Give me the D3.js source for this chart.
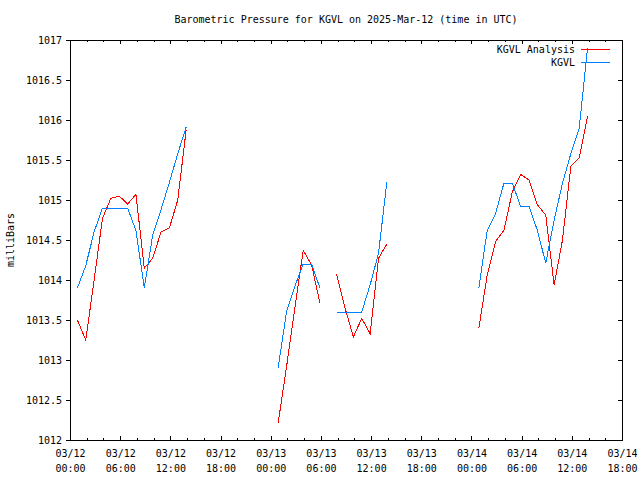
<!DOCTYPE html>
<html><head><meta charset="utf-8">
<script src="https://cdn.jsdelivr.net/npm/d3@7"></script>
<style>
body{margin:0;background:#fff}
svg{display:block}
text{font-family:"DejaVu Sans Mono","Liberation Mono",monospace;font-size:10px;fill:#000}
</style>
</head><body><svg id="c" width="640" height="480"></svg>
<script>
// Observation times: hours after 2025-03-12 00:53 UTC
const hourOffsets = [0,1,2,3,4,5,6,7,8,9,10,11,12,13,14,15,16,17,18,19,20,21,22,23,24,25,26,27,28,29,30,31,32,33,34,35,36,37,38,39,40,41,42,43,44,45,46,47,48,49,50,51,52,53,54,55,56,57,58,59,60,61];
// KGVL Analysis (red)
const analysis = [1013.50,1013.25,1014.00,1014.77,1015.02,1015.05,1014.95,1015.07,1014.15,1014.27,1014.60,1014.65,1015.00,1015.87,
  null,null,null,null,null,null,null,null,null,null,
  1012.21,1012.91,1013.65,1014.37,1014.19,1013.71,
  null,
  1014.07,1013.65,1013.29,1013.52,1013.33,1014.27,1014.45,
  null,null,null,null,null,null,null,null,null,null,
  1013.40,1014.06,1014.48,1014.62,1015.10,1015.32,1015.25,1014.94,1014.81,1013.94,1014.50,1015.42,1015.53,1016.05];
// KGVL observed (blue)
const observed = [1013.90,1014.18,1014.60,1014.90,1014.90,1014.90,1014.90,1014.62,1013.90,1014.56,1014.88,1015.22,1015.58,1015.91,
  null,null,null,null,null,null,null,null,null,null,
  1012.90,1013.60,1013.92,1014.20,1014.20,1013.90,
  null,
  1013.60,1013.60,1013.60,1013.60,1013.94,1014.33,1015.22,
  null,null,null,null,null,null,null,null,null,null,
  1013.90,1014.62,1014.83,1015.21,1015.21,1014.92,1014.92,1014.62,1014.21,1014.75,1015.21,1015.58,1015.90,1016.90];
const seriesNames = ["KGVL Analysis","KGVL"];
const seriesColors = ["#ff0000","#0080ff"];
const yTicks = [1012,1012.5,1013,1013.5,1014,1014.5,1015,1015.5,1016,1016.5,1017];
const xTickLabels = ["03/12 00:00","03/12 06:00","03/12 12:00","03/12 18:00","03/13 00:00","03/13 06:00","03/13 12:00","03/13 18:00","03/14 00:00","03/14 06:00","03/14 12:00","03/14 18:00"];
const titleText = "Barometric Pressure for KGVL on 2025-Mar-12 (time in UTC)";
const yLabel = "milliBars";

const svg = d3.select("#c");
const L=70, R=622, T=40, B=440;
const t0 = Date.UTC(2025,2,12,0,0);
const tObs0 = Date.UTC(2025,2,12,0,53);
const x = d3.scaleUtc().domain([new Date(t0), new Date(Date.UTC(2025,2,14,18,0))]).range([L,R]);
const y = d3.scaleLinear().domain([1012,1017]).range([B,T]);
const parseTick = s => { const [md,hm]=s.split(" "); const [mo,da]=md.split("/").map(Number); const [h,m]=hm.split(":").map(Number); return new Date(Date.UTC(2025,mo-1,da,h,m)); };
const majorDates = xTickLabels.map(parseTick);
const minorDates = [];
for (let i=0;i<majorDates.length-1;i++){ minorDates.push(new Date(+majorDates[i]+2*3600e3), new Date(+majorDates[i]+4*3600e3)); }

const g = svg.append("g").attr("shape-rendering","crispEdges");
// frame
g.append("rect").attr("x",L).attr("y",T).attr("width",R-L).attr("height",B-T).attr("fill","none").attr("stroke","#000");

// bottom axis
const bx = g.append("g").attr("transform",`translate(0,${B})`)
  .call(d3.axisBottom(x).tickValues(majorDates).tickSize(-4).tickPadding(9).tickFormat((d,i)=>xTickLabels[i]));
bx.select(".domain").remove();
bx.selectAll("text").each(function(d,i){
  const parts = xTickLabels[i].split(" ");
  const t = d3.select(this).text(null).attr("dy",null).attr("y",17);
  t.append("tspan").attr("x",0).attr("dy",0).text(parts[0]);
  t.append("tspan").attr("x",0).attr("dy",15).text(parts[1]);
});
g.append("g").attr("transform",`translate(0,${B})`)
  .call(d3.axisBottom(x).tickValues(minorDates).tickSize(-2).tickFormat(""))
  .select(".domain").remove();
// top axis mirror
const tx = g.append("g").attr("transform",`translate(0,${T})`)
  .call(d3.axisTop(x).tickValues(majorDates).tickSize(-4).tickFormat(""));
tx.select(".domain").remove();
g.append("g").attr("transform",`translate(0,${T})`)
  .call(d3.axisTop(x).tickValues(minorDates).tickSize(-2).tickFormat(""))
  .select(".domain").remove();
// left axis
const ly = g.append("g").attr("transform",`translate(${L},0)`)
  .call(d3.axisLeft(y).tickValues(yTicks).tickSize(4).tickPadding(4).tickFormat(d=>String(d)));
ly.select(".domain").remove();
// right axis mirror
g.append("g").attr("transform",`translate(${R},0)`)
  .call(d3.axisRight(y).tickValues(yTicks).tickSize(-4).tickFormat(""))
  .select(".domain").remove();
g.selectAll(".tick line").attr("stroke","#000");
svg.selectAll(".tick text").attr("font-family",null).attr("font-size",null).attr("fill","#000");

// title and y label
svg.append("text").attr("x",(L+R)/2).attr("y",23).attr("text-anchor","middle").text(titleText);
svg.append("text").attr("transform","translate(14,240) rotate(-90)").attr("text-anchor","middle").text(yLabel);

// data lines
const rows = hourOffsets.map((h,i)=>({t:new Date(tObs0 + h*3600e3), a:analysis[i], o:observed[i]}));
const mkLine = key => d3.line().defined(d=>d[key]!=null).x(d=>x(d.t)).y(d=>y(d[key]));
const lg = svg.append("g").attr("shape-rendering","crispEdges");
lg.append("path").datum(rows).attr("d",mkLine("a")).attr("fill","none").attr("stroke",seriesColors[0]).attr("stroke-width",1);
lg.append("path").datum(rows).attr("d",mkLine("o")).attr("fill","none").attr("stroke",seriesColors[1]).attr("stroke-width",1);

// legend
seriesNames.forEach((n,i)=>{
  const yy = 49 + i*13.5;
  svg.append("text").attr("x",575).attr("y",yy).attr("dy","0.35em").attr("text-anchor","end").text(n);
  svg.append("line").attr("x1",581).attr("x2",610).attr("y1",yy).attr("y2",yy)
    .attr("stroke",seriesColors[i]).attr("shape-rendering","crispEdges");
});
</script>
</body></html>
